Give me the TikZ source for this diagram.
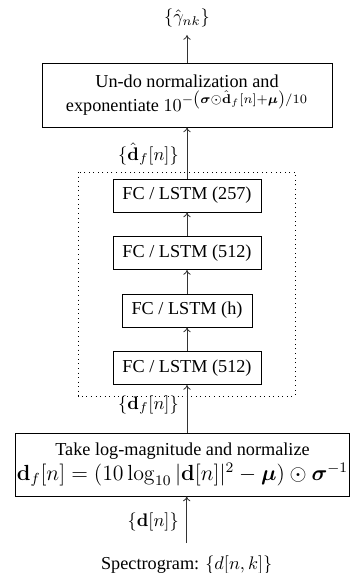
\documentclass[tikz,border=0pt]{standalone}
\usepackage{amsmath}
\usepackage[no-math]{fontspec}
\setmainfont{Liberation Serif}
\usetikzlibrary{arrows.meta}
\tikzset{
  blk/.style={draw=black, line width=0.5pt, align=center, inner sep=1pt, font=\fontsize{10}{12}\selectfont},
  fcbox/.style={blk, minimum height=18.1pt},
  lbl/.style={inner sep=0pt, font=\fontsize{10}{12}\selectfont},
  arr/.style={-{To[length=2.6pt,width=4pt]}, line width=0.45pt, draw=black!80},
}
\begin{document}
\begin{tikzpicture}[x=0.5486pt, y=-0.5486pt]
\useasboundingbox (0,0) rectangle (350,573);
% top box
\node[blk, minimum width=159.1pt, minimum height=35.1pt] (top) at (187,95)
  {Un-do normalization and\\[1pt] exponentiate $10^{-\left(\boldsymbol{\sigma}\odot\hat{\mathbf{d}}_f[n]+\boldsymbol{\mu}\right)/10}$};
% FC boxes
\node[fcbox, minimum width=81.2pt] (fc1) at (187,195.5) {FC / LSTM (257)};
\node[fcbox, minimum width=81.2pt] (fc2) at (187,253) {FC / LSTM (512)};
\node[fcbox, minimum width=71.3pt] (fc3) at (187,310.5) {FC / LSTM (h)};
\node[fcbox, minimum width=81.2pt] (fc4) at (187,368) {FC / LSTM (512)};
% dotted frame
\draw[dotted, line width=0.5pt] (78,172) rectangle (295,396);
% bottom box
\node[blk, minimum width=182.7pt, minimum height=34.6pt] (bot) at (182.5,464.5)
  {Take log-magnitude and normalize\\[1.5pt]
   {\fontsize{11.7}{13}\selectfont $\mathbf{d}_f[n]=(10\log_{10}|\mathbf{d}[n]|^2-\boldsymbol{\mu})\odot\boldsymbol{\sigma}^{-1}$}};
% labels
\node[lbl] (gam) at (187,18) {$\{\hat{\gamma}_{nk}\}$};
\coordinate (gamin) at (187,35);
\node[lbl, anchor=east] (ldhat) at (179,154) {$\{\hat{\mathbf{d}}_f[n]\}$};
\node[lbl, anchor=east] (ldf) at (179,405) {$\{\mathbf{d}_f[n]\}$};
\node[lbl, anchor=east] (ld) at (179,522) {$\{\mathbf{d}[n]\}$};
\node[lbl] (spec) at (186.7,565) {Spectrogram: $\{d[n,k]\}$};
\coordinate (specout) at (186.7,543);
% arrows
\draw[arr] (specout) -- (specout |- bot.south);
\draw[arr] (fc4.south |- bot.north) -- (fc4.south);
\draw[arr] (fc4) -- (fc3);
\draw[arr] (fc3) -- (fc2);
\draw[arr] (fc2) -- (fc1);
\draw[arr] (fc1.north) -- (fc1.north |- top.south);
\draw[arr] (top.north -| gamin) -- (gamin);
\end{tikzpicture}
\end{document}
